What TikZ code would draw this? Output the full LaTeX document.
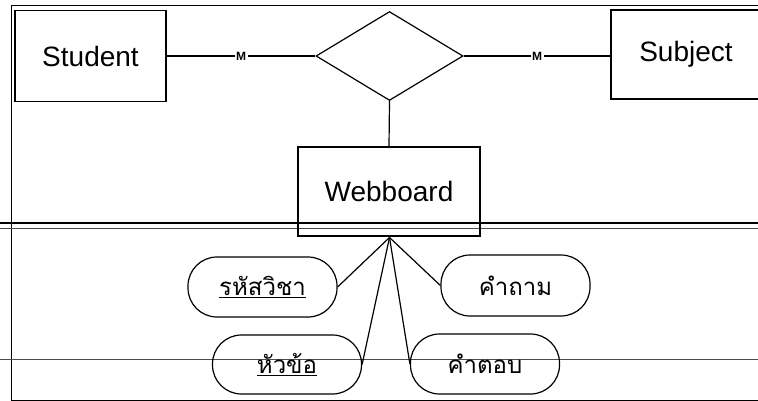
\documentclass[tikz,border=0pt]{standalone}
\usepackage{fontspec}
\setmainfont{Liberation Sans}
\newfontfamily\thaifont[Script=Thai]{Loma}
\usetikzlibrary{shapes.geometric}
\begin{document}
\begin{tikzpicture}[x=1pt,y=-1pt,
  every node/.style={inner sep=0pt},
  entity/.style={draw,line width=1.2pt,rectangle,font=\fontsize{28}{30}\selectfont},
  relation/.style={draw,line width=1.2pt,diamond,minimum width=147pt,minimum height=89pt},
  attrib/.style={draw,line width=1.2pt,rectangle,rounded corners=29pt,minimum width=149pt,minimum height=60pt,font=\thaifont\fontsize{24}{26}\selectfont},
  link/.style={line width=1.2pt},
  card/.style={fill=white,inner sep=1.5pt,font=\bfseries\fontsize{12}{12}\selectfont},
  rule/.style={line width=1pt}]
\useasboundingbox (0,0) rectangle (758,401);

% page frame and separating rules
\draw[rule] (758,6) -- (11,6) -- (11,400) -- (758,400);
\draw[line width=2.4pt] (0,223) -- (758,223);
\draw[line width=0.9pt,black!70] (0,228) -- (758,228);
\draw[line width=0.9pt,black!70] (0,359) -- (758,359);

% entities and relationship
\node[entity,minimum width=151pt,minimum height=91pt] (student) at (90.5,56) {Student};
\node[relation] (rel) at (389.5,56) {};
\node[entity,minimum width=170pt,minimum height=89pt,text width=150pt,align=center] (subject) at (696,54.5) {\hspace*{-20pt}Subject};
\node[entity,minimum width=182pt,minimum height=89pt] (webboard) at (389,191.5) {Webboard};

\draw[link] (student.east) -- node[card] {M} (rel.west);
\draw[link] (rel.east) -- node[card] {M} (rel.east -| subject.west);
\draw[link] (rel.south) -- (webboard.north);

% attributes of Webboard
\coordinate (hub) at (389.5,237.5);
\node[attrib] (code) at (262.5,287) {\underline{รหัสวิชา}};
\node[attrib,minimum height=59pt] (topic) at (287,364.5) {\underline{หัวข้อ}};
\node[attrib,minimum height=61pt] (question) at (515.5,285.5) {คำถาม};
\node[attrib] (answer) at (485,364) {คำตอบ};

\draw[link] (hub) -- (code.east);
\draw[link] (hub) -- (topic.east);
\draw[link] (hub) -- (question.west);
\draw[link] (hub) -- (answer.west);
\end{tikzpicture}
\end{document}
